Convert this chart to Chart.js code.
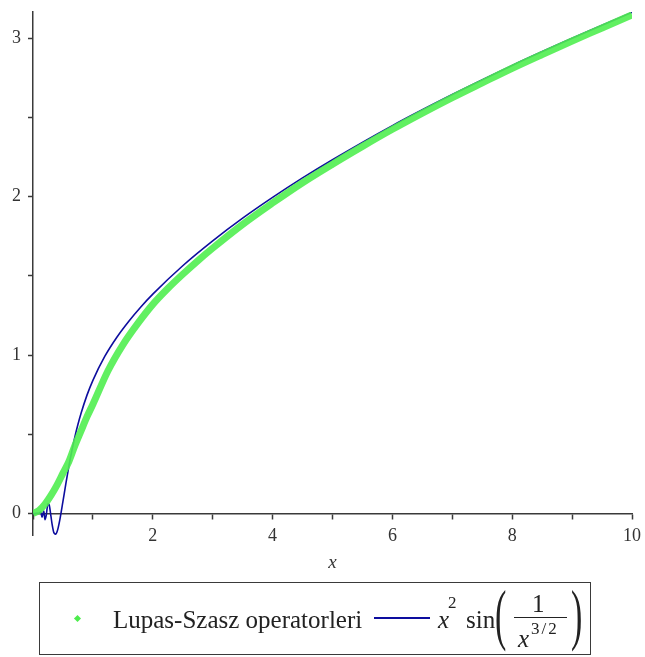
<!DOCTYPE html>
<html>
<head>
<meta charset="utf-8">
<script src="https://cdn.jsdelivr.net/npm/chart.js@4/dist/chart.umd.min.js"></script>
<style>
  body { margin: 0; background: #fff; }
  #wrap { position: relative; width: 645px; height: 657px; }
  #c { position: absolute; left: 0; top: 0; }
  #legend {
    position: absolute; left: 39px; top: 582px; width: 550px; height: 71px;
    border: 1.5px solid #3a3a3a; font-family: "Liberation Serif", serif; font-size: 25px; color: #222;
  }
  #legend span, #legend div { position: absolute; line-height: 1; white-space: nowrap; }
  #legend .dot { left: 35px; top: 33px; width: 5px; height: 5px; background: #4dec4d; transform: rotate(45deg); }
  #legend .lab { left: 73px; top: 24px; }
  #legend .line { left: 334px; top: 34px; width: 56px; height: 2px; background: #0d0d9e; }
  #legend i { font-style: italic; }
  #legend .sm { font-size: 17px; }
  #legend .paren { font-size: 68px; transform: scaleX(0.5); transform-origin: left top; font-weight: normal; }
  #legend .bar { left: 474px; top: 34px; width: 53px; height: 1.3px; background: #222; }
</style>
</head>
<body>
<div id="wrap">
  <canvas id="c" width="645" height="600"></canvas>
  <div id="legend">
    <div class="dot"></div>
    <span class="lab">Lupas-Szasz operatorleri</span>
    <div class="line"></div>
    <span style="left:398px; top:24px"><i>x</i></span>
    <span class="sm" style="left:408px; top:11px">2</span>
    <span style="left:426px; top:24px">sin</span>
    <span class="paren" style="left:455px; top:-3px">(</span>
    <span style="left:492px; top:8px">1</span>
    <div class="bar"></div>
    <span style="left:478px; top:43px"><i>x</i></span>
    <span class="sm" style="left:491px; top:37px; letter-spacing:2px">3/2</span>
    <span class="paren" style="left:531px; top:-3px">)</span>
  </div>
</div>
<script>
// values
const blueX = [0, 0.05, 0.1, 0.13, 0.15, 0.18, 0.2, 0.22, 0.25, 0.27, 0.3, 0.32, 0.35, 0.38, 0.4, 0.42, 0.45,
  0.5, 0.55, 0.6, 0.65, 0.7, 0.75, 0.8, 0.9, 1.0, 1.2, 1.4, 1.6, 1.8, 2.0, 2.5, 3, 3.5, 4, 4.5, 5, 6, 7, 8, 9, 10];
const blueY = [0, 0.002, 0.002, 0.01, -0.022, 0.016, -0.039, -0.013, 0.062, 0.055, -0.018, -0.07, -0.122, -0.13, -0.116, -0.09, -0.035,
  0.077, 0.192, 0.301, 0.399, 0.486, 0.562, 0.63, 0.746, 0.841, 0.993, 1.113, 1.214, 1.304, 1.385, 1.564, 1.721, 1.864, 1.995, 2.118, 2.233, 2.448, 2.644, 2.828, 2.999, 3.162];

const greenX = [0, 0.1, 0.2, 0.3, 0.4, 0.5, 0.6, 0.7, 0.8, 0.9, 1.0, 1.25, 1.5, 1.75, 2.0, 2.25, 2.5, 2.75, 3.0, 3.5,
  4, 4.5, 5, 5.5, 6, 6.5, 7, 7.5, 8, 8.5, 9, 9.5, 10];
const greenY = [0, 0.02, 0.06, 0.115, 0.18, 0.255, 0.33, 0.43, 0.52, 0.61, 0.69, 0.9, 1.065, 1.2, 1.32, 1.42, 1.51, 1.595, 1.675, 1.825,
  1.96, 2.088, 2.205, 2.317, 2.425, 2.527, 2.625, 2.718, 2.81, 2.897, 2.982, 3.064, 3.147];

const xTickLabels = [2, 4, 6, 8, 10];
const yTickLabels = [0, 1, 2, 3];

const pts = (xs, ys) => xs.map((x, i) => ({ x: x, y: ys[i] }));
const axisCol = '#3a3a3a';
const tickFont = { family: 'Liberation Serif', size: 18 };

new Chart(document.getElementById('c'), {
  type: 'scatter',
  data: {
    datasets: [{
      label: 'Lupas-Szasz operatorleri',
      data: pts(greenX, greenY),
      showLine: true,
      borderColor: 'rgba(80,238,80,0.9)',
      borderWidth: 7,
      pointRadius: 0,
      cubicInterpolationMode: 'monotone'
    }, {
      label: 'x^2 sin(1/x^(3/2))',
      data: pts(blueX, blueY),
      showLine: true,
      borderColor: '#0d0d9e',
      borderWidth: 1.6,
      pointRadius: 0,
      cubicInterpolationMode: 'monotone'
    }]
  },
  options: {
    responsive: false,
    animation: false,
    layout: { padding: { top: 12, right: 13, bottom: 65, left: 0 } },
    plugins: { legend: { display: false }, tooltip: { enabled: false } },
    scales: {
      x: {
        type: 'linear', min: 0, max: 10,
        position: { y: 0 },
        afterFit: s => { s.height = 61; s.paddingLeft = 0; s.paddingRight = 0; },
        border: { color: axisCol, width: 1.5 },
        grid: { drawOnChartArea: false, drawTicks: true, tickLength: 5, color: axisCol, tickWidth: 1.5 },
        ticks: {
          stepSize: 1, padding: 7, color: '#333', font: tickFont, maxRotation: 0,
          callback: v => xTickLabels.includes(v) ? String(v) : ''
        },
        title: { display: true, text: 'x', color: '#333', padding: 0,
          font: { family: 'Liberation Serif', size: 19, style: 'italic' } }
      },
      y: {
        type: 'linear', min: -0.135, max: 3.165,
        afterFit: s => { s.width = 33; s.paddingTop = 0; s.paddingBottom = 0; },
        border: { color: axisCol, width: 1.5 },
        grid: { drawOnChartArea: false, drawTicks: true, tickLength: 5, color: axisCol, tickWidth: 1.5 },
        ticks: {
          stepSize: 0.5, includeBounds: false, padding: 7, color: '#333', font: tickFont,
          callback: v => yTickLabels.includes(v) ? String(v) : ''
        }
      }
    }
  }
});
</script>
</body>
</html>
